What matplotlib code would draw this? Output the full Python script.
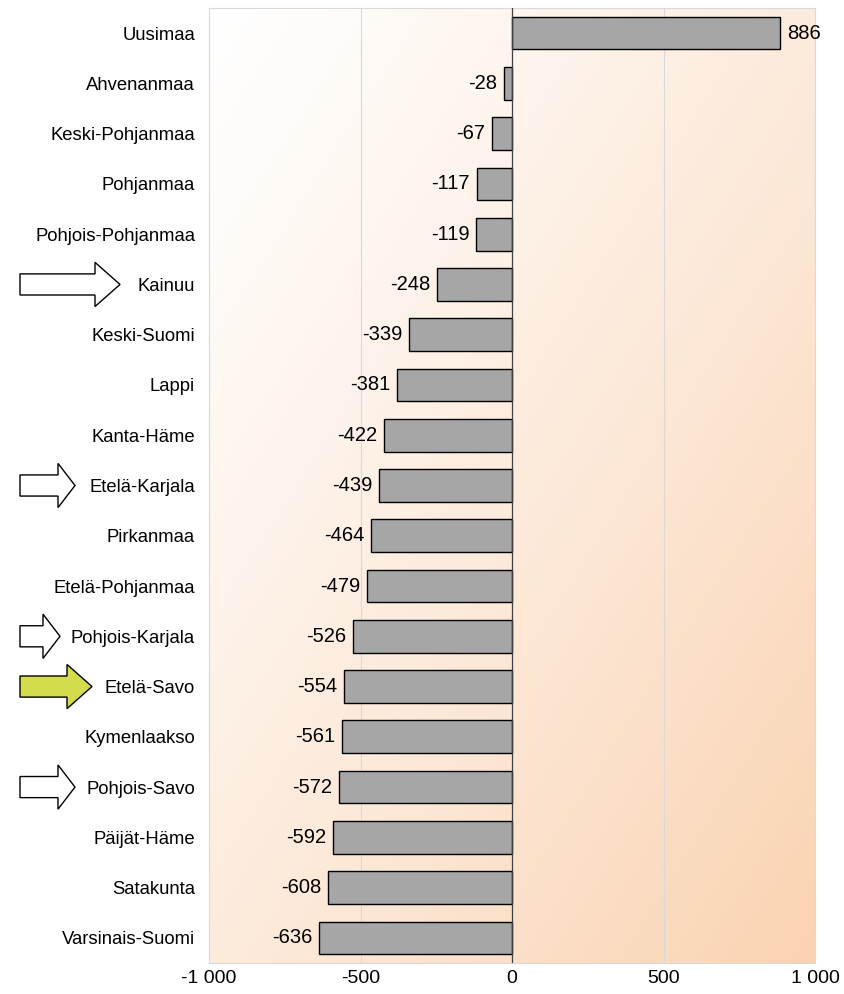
import numpy as np
import matplotlib.pyplot as plt
from matplotlib.patches import FancyArrow
from matplotlib.transforms import blended_transform_factory

plt.rcParams['font.family'] = ['Liberation Sans', 'DejaVu Sans']

maakunnat = ['Uusimaa', 'Ahvenanmaa', 'Keski-Pohjanmaa', 'Pohjanmaa', 'Pohjois-Pohjanmaa',
             'Kainuu', 'Keski-Suomi', 'Lappi', 'Kanta-Häme', 'Etelä-Karjala', 'Pirkanmaa',
             'Etelä-Pohjanmaa', 'Pohjois-Karjala', 'Etelä-Savo', 'Kymenlaakso', 'Pohjois-Savo',
             'Päijät-Häme', 'Satakunta', 'Varsinais-Suomi']
arvot = [886, -28, -67, -117, -119, -248, -339, -381, -422, -439, -464, -479, -526, -554,
         -561, -572, -592, -608, -636]
# nuolet: maakunta -> (pituus pikseleinä, täyttöväri)
nuolet = {'Kainuu': (100, 'white'), 'Etelä-Karjala': (55, 'white'),
          'Pohjois-Karjala': (40, 'white'), 'Etelä-Savo': (72, '#d3dc4c'),
          'Pohjois-Savo': (55, 'white')}
x_ticks = [-1000, -500, 0, 500, 1000]
x_labels = ['-1 000', '-500', '0', '500', '1 000']

fig = plt.figure(figsize=(8.44, 9.94), dpi=100)
ax = fig.add_axes([209/844, 1 - 963/994, (815-209)/844, (963-8)/994])

y = np.arange(len(maakunnat))

# taustan liukuväri vasemmasta yläkulmasta oikeaan alakulmaan
nx, ny = 200, 200
gx, gy = np.meshgrid(np.linspace(0, 1, nx), np.linspace(0, 1, ny))
t = ((gx + gy) / 2) ** 1.15
c0 = np.array([1.0, 1.0, 1.0])
c1 = np.array([250, 211, 178]) / 255
img = c0 + (c1 - c0) * t[..., None]
ax.imshow(img, extent=[-1000, 1000, len(maakunnat) - 0.5, -0.5], aspect='auto', zorder=0)

for xv in [-500, 500]:
    ax.axvline(xv, color='#d9d9d9', lw=0.8, zorder=1)
ax.axvline(0, color='#404040', lw=0.9, zorder=3)

ax.barh(y, arvot, height=0.65, color='#a6a6a6', edgecolor='black', lw=1, zorder=2)

for yi, v in zip(y, arvot):
    if v >= 0:
        ax.text(v + 22, yi, str(v), ha='left', va='center', fontsize=14.5)
    else:
        ax.text(v - 22, yi, str(v), ha='right', va='center', fontsize=14.5)

ax.set_xlim(-1000, 1000)
ax.set_ylim(len(maakunnat) - 0.5, -0.5)
ax.set_xticks(x_ticks)
ax.set_xticklabels(x_labels, fontsize=14)
ax.set_yticks(y)
ax.set_yticklabels(maakunnat, fontsize=13.3)
ax.tick_params(axis='x', length=0, pad=5)
ax.tick_params(axis='y', length=0, pad=10)
for s in ax.spines.values():
    s.set_color('#d9d9d9')

trans = blended_transform_factory(fig.transFigure, ax.transData)
for nimi, (pit, vari) in nuolet.items():
    yi = maakunnat.index(nimi)
    x0 = 20 / 844
    ax.add_patch(FancyArrow(x0, yi, pit / 844, 0, width=0.42, head_width=0.88,
                            head_length=(25 if pit > 60 else 17) / 844,
                            length_includes_head=True, transform=trans,
                            facecolor=vari, edgecolor='black', lw=1, clip_on=False, zorder=5))

fig.savefig('out.png', dpi=100)
